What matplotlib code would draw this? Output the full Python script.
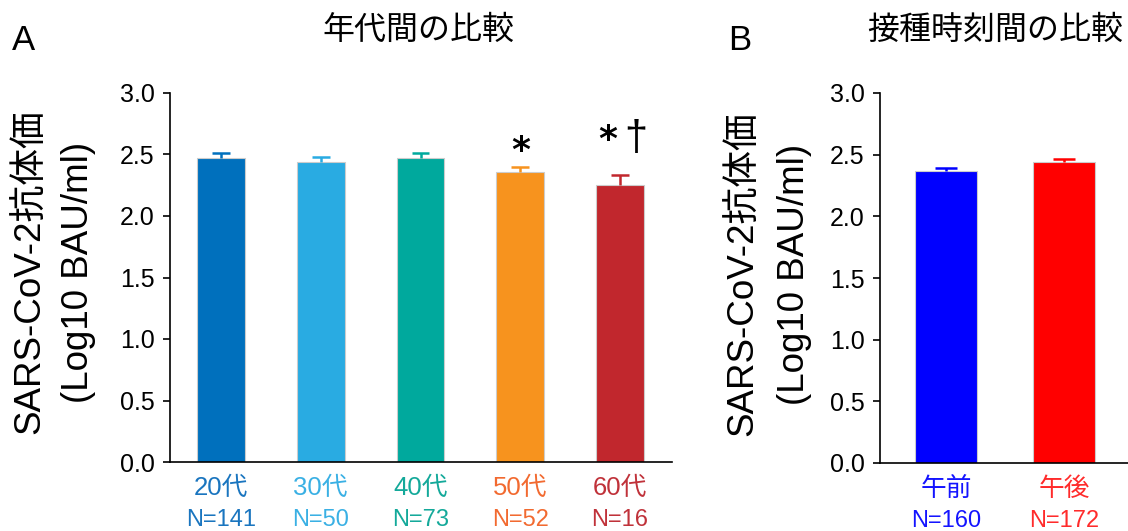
import numpy as np
import matplotlib
matplotlib.use("Agg")
import matplotlib.pyplot as plt
from matplotlib import transforms

plt.rcParams['font.family'] = ['Liberation Sans', 'Noto Sans CJK JP', 'DejaVu Sans']

# Panel A: antibody titre by age group
age_groups = ["20代", "30代", "40代", "50代", "60代"]
age_n = [141, 50, 73, 52, 16]
age_mean = [2.47, 2.44, 2.47, 2.36, 2.25]
age_sem = [0.04, 0.04, 0.04, 0.04, 0.08]
age_marks = ["", "", "", "*", "* †"]
age_bar_colors = ["#0070bd", "#29abe2", "#00a99d", "#f7931e", "#c1272d"]
age_text_colors = ["#1a75bf", "#3ab0e4", "#14a99a", "#f26a30", "#c0323a"]

# Panel B: antibody titre by vaccination time
time_groups = ["午前", "午後"]
time_n = [160, 172]
time_mean = [2.37, 2.44]
time_sem = [0.025, 0.025]
time_bar_colors = ["#0000ff", "#ff0000"]
time_text_colors = ["#1414ff", "#ff2b2b"]

W, H = 1128, 531


def style_axis(ax, labels, n, text_colors):
    """
    Spines, ticks and coloured category labels (name + N below)
    """
    ax.set_ylim(0, 3.0)
    ticks = np.arange(0, 3.01, 0.5)
    ax.set_yticks(ticks)
    ax.set_yticklabels(["%.1f" % v for v in ticks])
    ax.spines["top"].set_visible(False)
    ax.spines["right"].set_visible(False)
    ax.spines["left"].set_linewidth(1.2)
    ax.spines["bottom"].set_linewidth(1.2)
    ax.tick_params(axis="y", length=5, width=1.2, labelsize=18, pad=6)
    ax.set_xticks([])
    trans = transforms.blended_transform_factory(ax.transData, ax.transAxes)
    for i, (lab, k, c) in enumerate(zip(labels, n, text_colors)):
        ax.annotate(lab, xy=(i, 0), xycoords=trans, xytext=(0, -19),
                    textcoords="offset points", ha="center", va="center",
                    fontsize=18.5, color=c)
        ax.annotate("N=" + str(k), xy=(i, 0), xycoords=trans, xytext=(0, -42),
                    textcoords="offset points", ha="center", va="center",
                    fontsize=17, color=c)


def draw_bars(ax, mean, sem, colors, width, cap):
    """
    Bars with only the upper error whisker
    """
    x = np.arange(len(mean))
    ax.bar(x, mean, width=width, color=colors, edgecolor="#cccccc",
           linewidth=0.8, zorder=2)
    top = np.array(mean) + np.array(sem)
    ax.vlines(x, mean, top, colors=colors, linewidth=1.8, zorder=3)
    ax.hlines(top, x - cap, x + cap, colors=colors, linewidth=1.8, zorder=3)


def draw_marks(ax, mean, sem, marks):
    """
    Significance marks (* and †) above the whiskers
    """
    for i, mk in enumerate(marks):
        parts = mk.split()
        if not parts:
            continue
        base = mean[i] + sem[i] + 0.05 + 0.16 * (len(parts) - 1)
        offs = [0.0] if len(parts) == 1 else [-0.12, 0.16]
        for p, dx in zip(parts, offs):
            if p == "*":
                ax.text(i + dx, base, p, ha="center", va="baseline", fontsize=26,
                        family=["DejaVu Sans"], fontweight="bold")
            else:
                ax.text(i + dx, base, p, ha="center", va="baseline", fontsize=30)


fig = plt.figure(figsize=(W / 100, H / 100), dpi=100)

axA = fig.add_axes([170 / W, 1 - 462 / H, (672 - 170) / W, (462 - 93) / H])
draw_bars(axA, age_mean, age_sem, age_bar_colors, 0.48, 0.09)
style_axis(axA, age_groups, age_n, age_text_colors)
axA.set_xlim(-0.51, 4.52)
draw_marks(axA, age_mean, age_sem, age_marks)

axB = fig.add_axes([880 / W, 1 - 463 / H, (W - 880) / W, (463 - 93) / H])
draw_bars(axB, time_mean, time_sem, time_bar_colors, 0.525, 0.095)
style_axis(axB, time_groups, time_n, time_text_colors)
axB.set_xlim(-0.56, 1.54)

# titles and panel letters
fig.text(418 / W, 1 - 31 / H, "年代間の比較", ha="center", va="center", fontsize=23)
fig.text(995 / W, 1 - 31 / H, "接種時刻間の比較", ha="center", va="center", fontsize=23)
fig.text(24 / W, 1 - 40 / H, "A", ha="center", va="center", fontsize=25)
fig.text(740 / W, 1 - 40 / H, "B", ha="center", va="center", fontsize=25)

# y labels (two rotated lines each)
fig.text(31 / W, 1 - 272 / H, "SARS-CoV-2抗体価", rotation=90, ha="center", va="center", fontsize=26.5)
fig.text(79 / W, 1 - 272 / H, "(Log10 BAU/ml)", rotation=90, ha="center", va="center", fontsize=26.5)
fig.text(744 / W, 1 - 274 / H, "SARS-CoV-2抗体価", rotation=90, ha="center", va="center", fontsize=26.5)
fig.text(794 / W, 1 - 274 / H, "(Log10 BAU/ml)", rotation=90, ha="center", va="center", fontsize=26.5)

fig.savefig("out.png", dpi=100)
